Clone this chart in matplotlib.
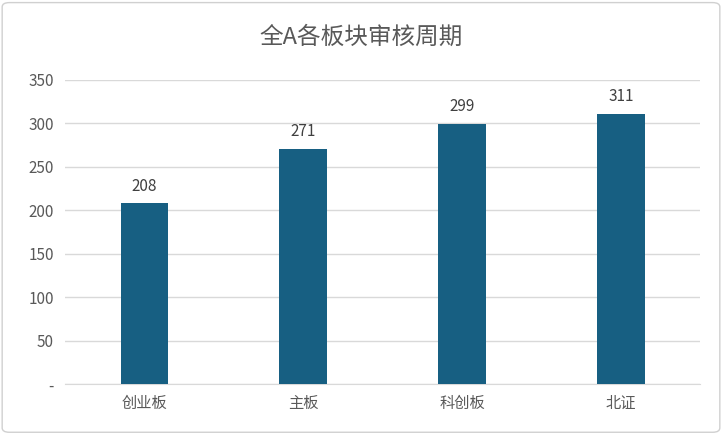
import matplotlib
matplotlib.use("Agg")
import matplotlib.pyplot as plt
from matplotlib.patches import FancyBboxPatch

plt.rcParams['font.family'] = ['Noto Sans CJK SC', 'DejaVu Sans']

categories = ['创业板', '主板', '科创板', '北证']
values = [208, 271, 299, 311]
yticks = [0, 50, 100, 150, 200, 250, 300, 350]
ytick_labels = ['-', '50', '100', '150', '200', '250', '300', '350']

fig = plt.figure(figsize=(7.22, 4.34), dpi=100)
fig.patches.append(FancyBboxPatch((0.003, 0.004), 0.994, 0.99, boxstyle="round,pad=0,rounding_size=0.01",
                                  transform=fig.transFigure, fill=False, edgecolor='#d0d0d0', lw=1))
ax = fig.add_axes([0.09, 0.115, 0.88, 0.701])
x = range(len(categories))
bars = ax.bar(x, values, width=0.3, color='#175f82', zorder=3)
for b, v in zip(bars, values):
    ax.text(b.get_x() + b.get_width()/2, v + 10, str(v), ha='center', va='bottom', fontsize=11, color='#404040')
ax.set_xlim(-0.5, 3.5)
ax.set_ylim(0, 350)
ax.set_yticks(yticks)
ax.set_yticklabels(ytick_labels)
ax.set_xticks(list(x))
ax.set_xticklabels(categories)
ax.grid(axis='y', color='#d9d9d9', lw=1, zorder=0)
for s in ['top', 'right', 'left']:
    ax.spines[s].set_visible(False)
ax.spines['bottom'].set_color('#d9d9d9')
ax.tick_params(length=0, labelsize=11, colors='#595959', pad=8)
fig.text(0.5, 0.915, '全A各板块审核周期', ha='center', va='center', fontsize=17, color='#595959')
fig.savefig('out.png', dpi=100)
